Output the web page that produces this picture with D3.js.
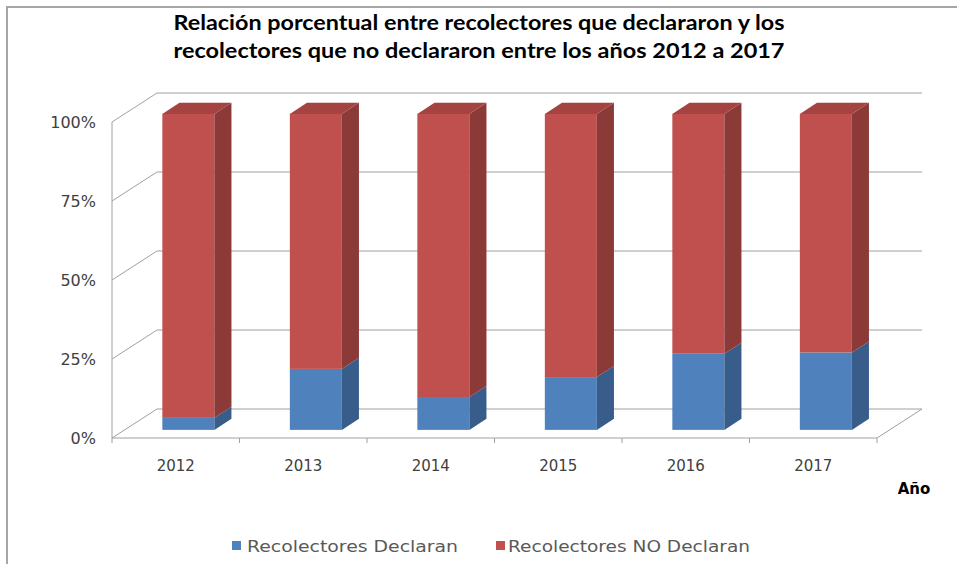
<!DOCTYPE html>
<html>
<head>
<meta charset="utf-8">
<script src="https://cdn.jsdelivr.net/npm/d3@7/dist/d3.min.js"></script>
<style>
  html, body { margin: 0; padding: 0; background: #fff; }
  svg { display: block; font-family: "DejaVu Sans", sans-serif; }
</style>
</head>
<body>
<svg id="chart" width="957" height="564"></svg>
<script>
// Data: percentage of collectors who declared / did not declare, per year
const years = ["2012", "2013", "2014", "2015", "2016", "2017"];
const declaran = [3.8, 19.3, 10.4, 16.7, 24.1, 24.5];
const noDeclaran = [96.2, 80.7, 89.6, 83.3, 75.9, 75.5];
const seriesNames = ["Recolectores Declaran", "Recolectores NO Declaran"];
const yTicks = [0, 0.25, 0.5, 0.75, 1];
const titleLines = [
  "Relación porcentual entre recolectores que declararon y los",
  "recolectores que no declararon entre los años 2012 a 2017"
];

const svg = d3.select("#chart");

// Plot box (front plane) and oblique depth vector
const plotLeft = 112, plotRight = 877, plotBottom = 438, plotTop = 122;
const depth = { x: 45, y: -29 };
const proj = d => ({ x: depth.x * d, y: depth.y * d });

// Bar depth slab
const barD0 = 0.28, barD1 = 0.66;

const x = d3.scaleBand().domain(years).range([plotLeft, plotRight])
  .paddingInner(0.592).paddingOuter(0.296);
const y = d3.scaleLinear().domain([0, 1]).range([plotBottom, plotTop]);

const colors = {
  front: ["#4F81BD", "#C0504D"],
  side: ["#385D8A", "#8C3A38"],
  top: ["#46719F", "#A4433F"]
};

// Outer chart border
svg.append("path")
  .attr("d", "M7,564 L7,7 L957,7")
  .attr("fill", "none").attr("stroke", "#A6A6A6").attr("stroke-width", 2);

// Title
svg.append("g").selectAll("text").data(titleLines).join("text")
  .attr("x", 479).attr("y", (d, i) => 30 + i * 28)
  .attr("text-anchor", "middle")
  .attr("font-family", "Lato, sans-serif")
  .attr("font-size", 21).attr("font-weight", "bold").attr("fill", "#000")
  .attr("textLength", 611).attr("lengthAdjust", "spacingAndGlyphs")
  .text(d => d);

const grid = svg.append("g").attr("stroke", "#A0A0A0").attr("stroke-width", 1).attr("fill", "none");
const back = proj(1);

// Back wall gridlines and left wall diagonals
yTicks.forEach(t => {
  const yy = y(t);
  grid.append("line")
    .attr("x1", plotLeft + back.x).attr("y1", yy + back.y)
    .attr("x2", plotRight + back.x).attr("y2", yy + back.y);
  grid.append("line")
    .attr("x1", plotLeft).attr("y1", yy)
    .attr("x2", plotLeft + back.x).attr("y2", yy + back.y);
});

// Front vertical axis line, floor front edge and right floor edge
grid.append("line").attr("x1", plotLeft).attr("y1", y(1)).attr("x2", plotLeft).attr("y2", y(0));
grid.append("line").attr("x1", plotLeft).attr("y1", y(0)).attr("x2", plotRight).attr("y2", y(0));
grid.append("line").attr("x1", plotRight).attr("y1", y(0))
  .attr("x2", plotRight + back.x).attr("y2", y(0) + back.y);

// Category boundary tick marks on the floor edge
const step = x.step();
d3.range(years.length + 1).forEach(i => {
  const xx = plotLeft + i * step;
  grid.append("line").attr("x1", xx).attr("y1", y(0)).attr("x2", xx).attr("y2", y(0) + 5);
});

// Stacked (normalized) series
const rows = years.map((yr, i) => ({ year: yr, a: declaran[i], b: noDeclaran[i] }));
const stacked = d3.stack().keys(["a", "b"]).offset(d3.stackOffsetExpand)(rows);

const bars = svg.append("g");
const f0 = proj(barD0), f1 = proj(barD1);
const dd = { x: f1.x - f0.x, y: f1.y - f0.y };

years.forEach((yr, i) => {
  const xl = x(yr) + f0.x, xr = xl + x.bandwidth();
  stacked.forEach((s, si) => {
    const [v0, v1] = s[i];
    const yb = y(v0) + f0.y, yt = y(v1) + f0.y;
    bars.append("rect")
      .attr("x", xl).attr("y", yt).attr("width", xr - xl).attr("height", yb - yt)
      .attr("fill", colors.front[si]);
    bars.append("path")
      .attr("d", `M${xr},${yb} L${xr + dd.x},${yb + dd.y} L${xr + dd.x},${yt + dd.y} L${xr},${yt} Z`)
      .attr("fill", colors.side[si]);
    if (si === stacked.length - 1) {
      bars.append("path")
        .attr("d", `M${xl},${yt} L${xl + dd.x},${yt + dd.y} L${xr + dd.x},${yt + dd.y} L${xr},${yt} Z`)
        .attr("fill", colors.top[si]);
    }
  });
});

// Y axis labels
const yAxis = svg.append("g").attr("transform", `translate(${plotLeft},0)`)
  .call(d3.axisLeft(y).tickValues(yTicks).tickFormat(d3.format(".0%")).tickSize(0).tickPadding(16));
yAxis.select(".domain").remove();
yAxis.selectAll("text").attr("font-size", 16).attr("fill", "#404040")
  .attr("font-family", "\"DejaVu Sans\", sans-serif");

// X axis labels
const xAxis = svg.append("g").attr("transform", `translate(0,${plotBottom})`)
  .call(d3.axisBottom(x).tickSize(0).tickPadding(22));
xAxis.select(".domain").remove();
xAxis.selectAll("text").attr("font-size", 15).attr("fill", "#404040")
  .attr("font-family", "\"DejaVu Sans\", sans-serif");

// Axis title
svg.append("text").attr("x", 914).attr("y", 494).attr("text-anchor", "middle")
  .attr("font-size", 15).attr("font-weight", "bold").attr("fill", "#000").text("Año");

// Legend
const legendSwatchX = [232, 496];
const legendTextX = [247, 508];
const legendLen = [211, 242];
const legend = svg.append("g");
seriesNames.forEach((name, i) => {
  legend.append("rect").attr("x", legendSwatchX[i]).attr("y", 541).attr("width", 9).attr("height", 9)
    .attr("fill", colors.front[i]);
  legend.append("text").attr("x", legendTextX[i]).attr("y", 552)
    .attr("font-size", 16).attr("fill", "#595959")
    .attr("textLength", legendLen[i]).attr("lengthAdjust", "spacingAndGlyphs")
    .text(name);
});
</script>
</body>
</html>
